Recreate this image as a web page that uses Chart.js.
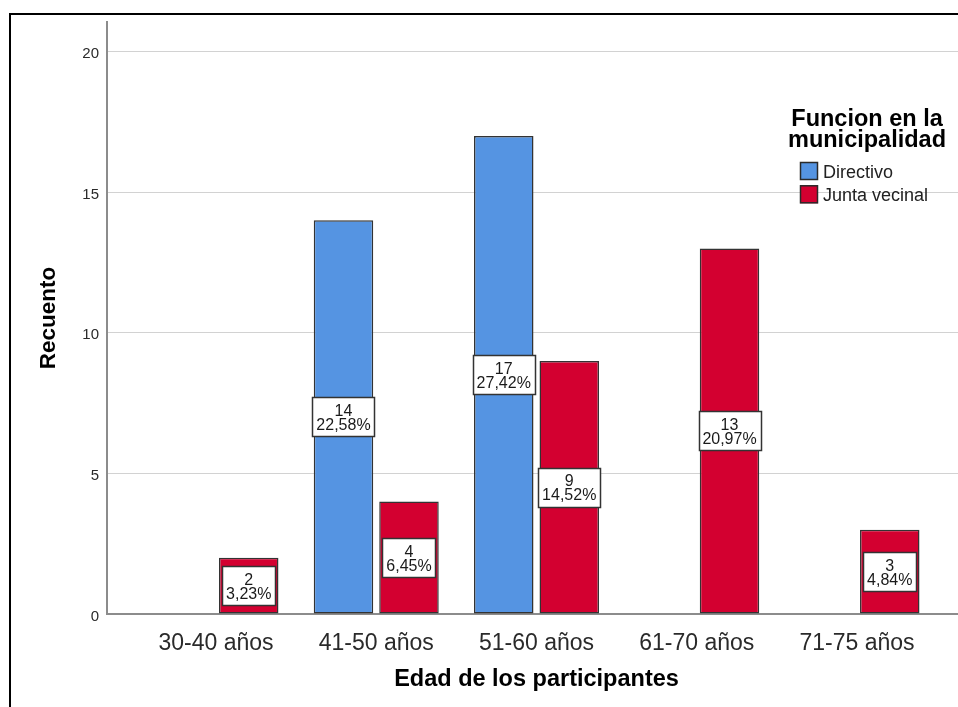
<!DOCTYPE html>
<html lang="es">
<head>
<meta charset="utf-8">
<title>Edad de los participantes</title>
<script src="https://cdn.jsdelivr.net/npm/chart.js@4"></script>
<style>
  html, body { margin: 0; padding: 0; background: #fff; overflow: hidden; width: 958px; height: 707px; }
  #frame { position: absolute; left: 9px; top: 13px; width: 1400px; height: 1000px; border: 2px solid #000; box-sizing: border-box; }
  #chart { position: absolute; left: 0; top: 0; display: block; }
</style>
</head>
<body>
<div id="frame"></div>
<canvas id="chart" width="966" height="707"></canvas>
<script>
// Age groups on the horizontal axis
const categories = ['30-40 años', '41-50 años', '51-60 años', '61-70 años', '71-75 años'];
// Counts per role (null = no participants in that group)
const directivo = [null, 14, 17, null, null];
const juntaVecinal = [2, 4, 9, 13, 3];
const seriesNames = ['Directivo', 'Junta vecinal'];
const yTicks = [0, 5, 10, 15, 20];
const legendTitle = ['Funcion en la', 'municipalidad'];
const xTitle = 'Edad de los participantes';
const yTitle = 'Recuento';

const FONT = "'Liberation Sans', Arial, sans-serif";
const BLUE = '#5594e2';
const RED = '#d30030';

const total = [...directivo, ...juntaVecinal].reduce((a, v) => a + (v || 0), 0);
const pct = v => (v / total * 100).toFixed(2).replace('.', ',') + '%';
const toPoints = arr => arr.map((v, i) => ({ x: i, y: v })).filter(p => p.y !== null);

// White count / percentage boxes centred in each bar
const valueBoxes = {
  id: 'valueBoxes',
  afterDatasetsDraw(chart) {
    const ctx = chart.ctx;
    ctx.save();
    ctx.font = '16px ' + FONT;
    chart.data.datasets.forEach((ds, di) => {
      const meta = chart.getDatasetMeta(di);
      meta.data.forEach((bar, i) => {
        const v = ds.data[i].y;
        const lines = [String(v), pct(v)];
        const w = Math.round(Math.max(...lines.map(t => ctx.measureText(t).width)) + 8);
        const h = 39;
        const cy = (bar.y + bar.base) / 2;
        const x0 = Math.round(bar.x - w / 2) + 0.5;
        const y0 = Math.round(cy - h / 2) + 0.5;
        ctx.fillStyle = '#fff';
        ctx.fillRect(x0, y0, w, h);
        ctx.strokeStyle = '#333';
        ctx.lineWidth = 1.5;
        ctx.strokeRect(x0, y0, w, h);
        ctx.fillStyle = '#1a1a1a';
        ctx.textAlign = 'center';
        ctx.textBaseline = 'alphabetic';
        ctx.fillText(lines[0], bar.x, cy - 1);
        ctx.fillText(lines[1], bar.x, cy + 13);
      });
    });
    ctx.restore();
  }
};

// Legend with a two-line bold title, upper right of the plot
const roleLegend = {
  id: 'roleLegend',
  afterDraw(chart) {
    const ctx = chart.ctx;
    ctx.save();
    ctx.fillStyle = '#000';
    ctx.textAlign = 'center';
    ctx.textBaseline = 'alphabetic';
    ctx.font = 'bold 23.5px ' + FONT;
    legendTitle.forEach((t, k) => ctx.fillText(t, 867, 126 + k * 20.5));
    ctx.font = '18px ' + FONT;
    ctx.textAlign = 'left';
    chart.data.datasets.forEach((ds, k) => {
      const y = 162 + k * 23.3;
      ctx.fillStyle = ds.backgroundColor;
      ctx.fillRect(800, y, 18, 18);
      ctx.strokeStyle = '#2a2a2a';
      ctx.lineWidth = 1.5;
      ctx.strokeRect(800.5, y + 0.5, 17, 17);
      ctx.fillStyle = '#222';
      ctx.fillText(ds.label, 823, y + 15.5);
    });
    ctx.restore();
  }
};

new Chart(document.getElementById('chart'), {
  type: 'bar',
  data: {
    datasets: [
      { label: seriesNames[0], data: toPoints(directivo), backgroundColor: BLUE },
      { label: seriesNames[1], data: toPoints(juntaVecinal), backgroundColor: RED }
    ]
  },
  options: {
    responsive: false,
    animation: false,
    layout: { padding: { top: 22, left: 0, right: 0, bottom: 0 } },
    datasets: {
      bar: {
        categoryPercentage: 0.8174,
        barPercentage: 0.9084,
        borderColor: '#333',
        borderWidth: 1.5,
        borderSkipped: false
      }
    },
    plugins: {
      legend: { display: false },
      tooltip: { enabled: false }
    },
    scales: {
      x: {
        type: 'linear',
        offset: false,
        min: -0.68,
        max: 4.68,
        afterBuildTicks: s => { s.ticks = categories.map((_, i) => ({ value: i })); },
        afterFit: s => { s.height = 93; },
        grid: { display: false },
        border: { display: true, color: '#8c8c8c', width: 2 },
        ticks: {
          autoSkip: false,
          maxRotation: 0,
          padding: 8,
          color: '#2a2a2a',
          font: { family: FONT, size: 23 },
          callback: v => categories[v]
        },
        title: {
          display: true,
          text: xTitle,
          color: '#000',
          font: { family: FONT, size: 23.5, weight: 'bold' },
          padding: { top: 0, bottom: 13 }
        }
      },
      y: {
        min: 0,
        max: 21.05,
        afterBuildTicks: s => { s.ticks = yTicks.map(v => ({ value: v })); },
        afterFit: s => { s.width = 107; },
        grid: { color: '#d2d2d2', lineWidth: 1, drawTicks: false },
        border: { display: true, color: '#8c8c8c', width: 2 },
        ticks: {
          padding: 8,
          labelOffset: 2.5,
          color: '#2a2a2a',
          font: { family: FONT, size: 15 }
        },
        title: {
          display: true,
          text: yTitle,
          color: '#000',
          font: { family: FONT, size: 22.5, weight: 'bold' },
          padding: { top: 34.8, bottom: 0 }
        }
      }
    }
  },
  plugins: [valueBoxes, roleLegend]
});
</script>
</body>
</html>
